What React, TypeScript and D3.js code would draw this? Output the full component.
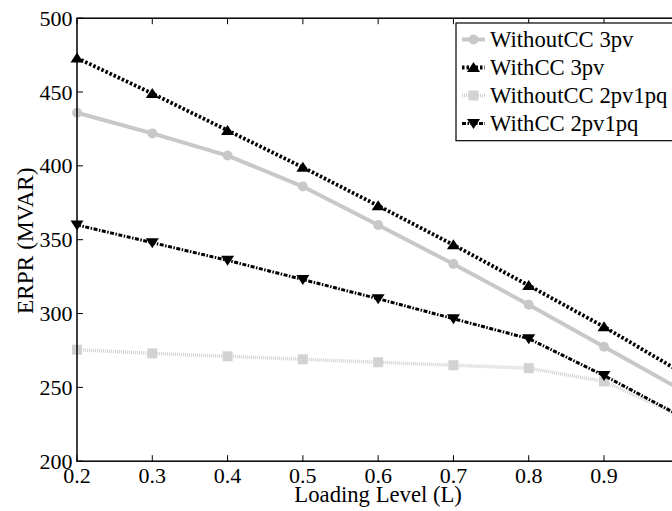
import React from "react";
import * as d3 from "d3";

const loadingLevels = [0.2, 0.3, 0.4, 0.5, 0.6, 0.7, 0.8, 0.9, 1.0];
const withoutCC3pv = [436, 422, 407, 386, 360, 333.5, 306, 277.5, 249];
const withCC3pv = [473, 449, 424, 399, 373, 346.5, 319, 291, 261];
const withoutCC2pv1pq = [275.5, 273, 271, 269, 267, 265, 263, 254, 231];
const withCC2pv1pq = [360, 348, 336, 323, 310, 296.5, 283, 258, 231];
const xTicks = [0.2, 0.3, 0.4, 0.5, 0.6, 0.7, 0.8, 0.9, 1.0];
const xTickLabels = ["0.2", "0.3", "0.4", "0.5", "0.6", "0.7", "0.8", "0.9", "1"];
const yTicks = [200, 250, 300, 350, 400, 450, 500];
const seriesNames = ["WithoutCC 3pv", "WithCC 3pv", "WithoutCC 2pv1pq", "WithCC 2pv1pq"];

const W = 672;
const H = 511;
const left = 77;
const right = 679.3;
const top = 18.2;
const bottom = 461.2;
const FONT = "'Liberation Serif', 'Times New Roman', serif";

const x = d3.scaleLinear().domain([0.2, 1.0]).range([left, right]);
const y = d3.scaleLinear().domain([200, 500]).range([bottom, top]);

type Style = {
  color: string;
  width: number;
  dash: string | undefined;
  marker: "circle" | "up" | "square" | "down";
  markerColor: string;
};

const styles: Style[] = [
  { color: "#c8c8c8", width: 4, dash: undefined, marker: "circle", markerColor: "#c8c8c8" },
  { color: "#000", width: 3.8, dash: "2.5,2", marker: "up", markerColor: "#000" },
  { color: "#d2d2d2", width: 3.5, dash: "1,1", marker: "square", markerColor: "#d2d2d2" },
  { color: "#000", width: 3, dash: "4,1.5,1.5,1.5", marker: "down", markerColor: "#000" },
];

const data = [withoutCC3pv, withCC3pv, withoutCC2pv1pq, withCC2pv1pq];

function Marker({ kind, cx, cy, color }: { kind: Style["marker"]; cx: number; cy: number; color: string }) {
  if (kind === "circle") return <circle cx={cx} cy={cy} r={5} fill={color} />;
  if (kind === "square") return <rect x={cx - 5} y={cy - 5} width={10} height={10} fill={color} />;
  if (kind === "up")
    return <path d={`M${cx},${cy - 5.5}L${cx + 6.5},${cy + 4.5}L${cx - 6.5},${cy + 4.5}Z`} fill={color} />;
  return <path d={`M${cx},${cy + 5.5}L${cx + 6.5},${cy - 4.5}L${cx - 6.5},${cy - 4.5}Z`} fill={color} />;
}

export default function App() {
  const line = d3
    .line<number>()
    .x((_, i) => x(loadingLevels[i]))
    .y((d) => y(d));

  const legendX = 456;
  const legendY = 23;
  const rowH = 28;

  return (
    <svg
      width={W}
      height={H}
      style={{ position: "absolute", left: 0, top: 0, background: "#fff", fontFamily: FONT }}
    >
      <rect x={0} y={0} width={W} height={H} fill="#fff" />
      {data.map((vals, si) => (
        <g key={si}>
          <path
            d={line(vals) || ""}
            fill="none"
            stroke={styles[si].color}
            strokeWidth={styles[si].width}
            strokeDasharray={styles[si].dash}
          />
          {vals.map((v, i) => (
            <Marker key={i} kind={styles[si].marker} cx={x(loadingLevels[i])} cy={y(v)} color={styles[si].markerColor} />
          ))}
        </g>
      ))}
      <rect x={left} y={top} width={right - left} height={bottom - top} fill="none" stroke="#000" strokeWidth={1.5} />
      {xTicks.map((t, i) => (
        <g key={"x" + t}>
          <line x1={x(t)} x2={x(t)} y1={bottom} y2={bottom - 6} stroke="#000" strokeWidth={1} />
          <line x1={x(t)} x2={x(t)} y1={top} y2={top + 6} stroke="#000" strokeWidth={1} />
          <text x={x(t)} y={483} textAnchor="middle" fontSize={22}>
            {xTickLabels[i]}
          </text>
        </g>
      ))}
      {yTicks.map((t) => (
        <g key={"y" + t}>
          <line x1={left} x2={left + 6} y1={y(t)} y2={y(t)} stroke="#000" strokeWidth={1} />
          <line x1={right} x2={right - 6} y1={y(t)} y2={y(t)} stroke="#000" strokeWidth={1} />
          <text x={72.5} y={y(t) + 7.5} textAnchor="end" fontSize={22}>
            {t}
          </text>
        </g>
      ))}
      <text x={(left + right) / 2} y={502} textAnchor="middle" fontSize={22.7}>
        Loading Level (L)
      </text>
      <text
        transform={`translate(33,${(top + bottom) / 2 + 1}) rotate(-90)`}
        textAnchor="middle"
        fontSize={23.3}
      >
        ERPR (MVAR)
      </text>
      <rect x={legendX} y={legendY} width={260} height={140.7 - legendY} fill="#fff" stroke="#000" strokeWidth={1.2} />
      {seriesNames.map((name, i) => {
        const cy = 39.5 + i * rowH;
        const s = styles[i];
        return (
          <g key={name}>
            <line
              x1={462}
              x2={485}
              y1={cy}
              y2={cy}
              stroke={s.color}
              strokeWidth={s.width}
              strokeDasharray={s.dash}
            />
            <Marker kind={s.marker} cx={473.5} cy={cy} color={s.markerColor} />
            <text x={490} y={cy + 7.5} fontSize={22.7}>
              {name}
            </text>
          </g>
        );
      })}
    </svg>
  );
}
